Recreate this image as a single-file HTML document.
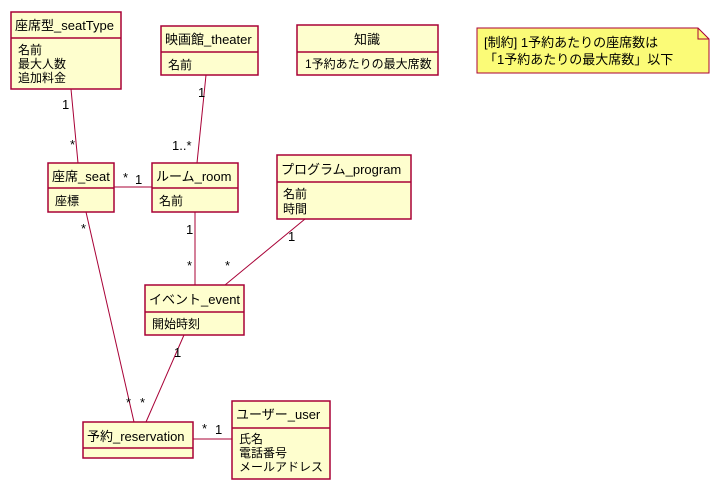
<!DOCTYPE html>
<html><head><meta charset="utf-8"><style>
body{margin:0;background:#fff;width:723px;height:490px;overflow:hidden}
svg text{font-family:"Liberation Sans","Noto Sans CJK JP",sans-serif;font-size:13px;fill:#000}
.b{fill:#fefece;stroke:#a80036;stroke-width:1.5}
.l{stroke:#a80036;stroke-width:1}
.m{font-size:13px}
</style></head><body>
<svg width="723" height="490" xmlns="http://www.w3.org/2000/svg">
<!-- lines -->
<line class="l" x1="71" y1="89" x2="78" y2="163"/>
<line class="l" x1="206" y1="75" x2="197" y2="163"/>
<line class="l" x1="114" y1="187" x2="152" y2="187"/>
<line class="l" x1="195" y1="212" x2="195" y2="285"/>
<line class="l" x1="305" y1="219" x2="225" y2="285"/>
<line class="l" x1="86" y1="212" x2="134" y2="422"/>
<line class="l" x1="184" y1="335" x2="146" y2="422"/>
<line class="l" x1="193" y1="439" x2="232" y2="439"/>
<!-- seatType -->
<rect class="b" x="11" y="12" width="110" height="77"/>
<line class="l" x1="11" y1="38" x2="121" y2="38" style="stroke-width:1.5"/>
<text x="15" y="30">座席型_seatType</text>
<text x="18" y="54" style="font-size:12px">名前</text>
<text x="18" y="68" style="font-size:12px">最大人数</text>
<text x="18" y="82" style="font-size:12px">追加料金</text>
<!-- theater -->
<rect class="b" x="161" y="26" width="97" height="49"/>
<line class="l" x1="161" y1="52" x2="258" y2="52" style="stroke-width:1.5"/>
<text x="165" y="44">映画館_theater</text>
<text x="168" y="69" style="font-size:12px">名前</text>
<!-- knowledge -->
<rect class="b" x="297" y="25" width="141" height="50"/>
<line class="l" x1="297" y1="52" x2="438" y2="52" style="stroke-width:1.5"/>
<text x="367" y="44" text-anchor="middle">知識</text>
<text x="305" y="68" style="font-size:12px">1予約あたりの最大席数</text>
<!-- note -->
<path d="M477,28 L698,28 L709,39 L709,73 L477,73 Z" fill="#fbfb77" stroke="#a80036" stroke-width="1"/>
<path d="M698,28 L698,39 L709,39" fill="none" stroke="#a80036" stroke-width="1"/>
<text x="484" y="47">[制約] 1予約あたりの座席数は</text>
<text x="484" y="64">「1予約あたりの最大席数」以下</text>
<!-- seat -->
<rect class="b" x="48" y="163" width="66" height="49"/>
<line class="l" x1="48" y1="188" x2="114" y2="188" style="stroke-width:1.5"/>
<text x="52" y="181">座席_seat</text>
<text x="55" y="205" style="font-size:12px">座標</text>
<!-- room -->
<rect class="b" x="152" y="163" width="86" height="49"/>
<line class="l" x1="152" y1="188" x2="238" y2="188" style="stroke-width:1.5"/>
<text x="156" y="181">ルーム_room</text>
<text x="159" y="205" style="font-size:12px">名前</text>
<!-- program -->
<rect class="b" x="277" y="155" width="134" height="64"/>
<line class="l" x1="277" y1="182" x2="411" y2="182" style="stroke-width:1.5"/>
<text x="281" y="174">プログラム_program</text>
<text x="283" y="198" style="font-size:12px">名前</text>
<text x="283" y="213" style="font-size:12px">時間</text>
<!-- event -->
<rect class="b" x="145" y="285" width="99" height="50"/>
<line class="l" x1="145" y1="312" x2="244" y2="312" style="stroke-width:1.5"/>
<text x="149" y="304">イベント_event</text>
<text x="152" y="328" style="font-size:12px">開始時刻</text>
<!-- reservation -->
<rect class="b" x="83" y="422" width="110" height="36"/>
<line class="l" x1="83" y1="448" x2="193" y2="448" style="stroke-width:1.5"/>
<text x="87" y="441">予約_reservation</text>
<!-- user -->
<rect class="b" x="232" y="401" width="98" height="78"/>
<line class="l" x1="232" y1="428" x2="330" y2="428" style="stroke-width:1.5"/>
<text x="236" y="419">ユーザー_user</text>
<text x="239" y="443" style="font-size:12px">氏名</text>
<text x="239" y="457" style="font-size:12px">電話番号</text>
<text x="239" y="471" style="font-size:12px">メールアドレス</text>
<!-- multiplicities -->
<text x="62" y="109">1</text>
<text x="70" y="149">*</text>
<text x="198" y="97">1</text>
<text x="172" y="150">1..*</text>
<text x="123" y="182">*</text>
<text x="135" y="184">1</text>
<text x="186" y="234">1</text>
<text x="187" y="270">*</text>
<text x="225" y="270">*</text>
<text x="288" y="241">1</text>
<text x="81" y="233">*</text>
<text x="174" y="357">1</text>
<text x="126" y="407">*</text>
<text x="140" y="407">*</text>
<text x="202" y="433">*</text>
<text x="215" y="434">1</text>
</svg>
</body></html>
